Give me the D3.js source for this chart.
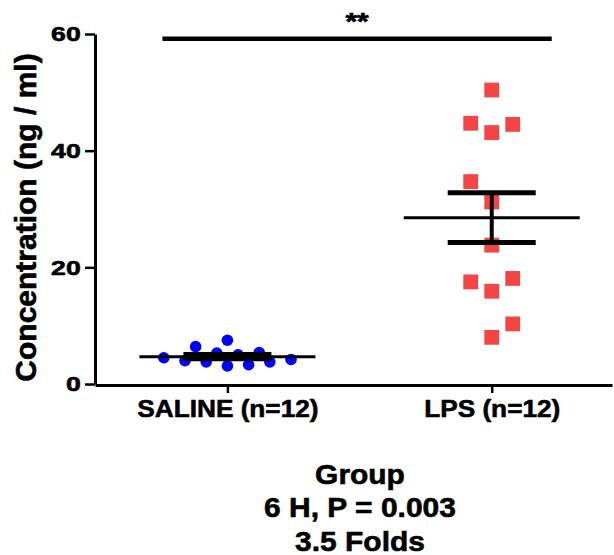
<!DOCTYPE html>
<html>
<head>
<meta charset="utf-8">
<script src="https://cdn.jsdelivr.net/npm/d3@7"></script>
<style>
  body { margin: 0; background: #fff; }
  text { font-family: "Liberation Sans", Arial, sans-serif; font-weight: bold; fill: #000; stroke: #000; stroke-width: 0.6px; }
</style>
</head>
<body>
<script>
// groups on the x axis
const groups = ["SALINE (n=12)", "LPS (n=12)"];
const yTicks = [0, 20, 40, 60];

// concentrations (ng / ml)
const salineValues = [4.5, 4.0, 6.4, 3.8, 5.3, 7.5, 3.1, 5.0, 3.3, 5.4, 3.8, 4.2];
const lpsValues = [50.4, 44.7, 43.1, 44.5, 34.7, 31.2, 23.8, 17.5, 18.1, 15.9, 10.3, 8.0];

// column of each point in the scatter (which slot it sits in, left/right of centre)
const salineCols = [-6, -4, -3, -2, -1, 0, 0, 1, 2, 3, 4, 6];
const lpsCols = [0, -1, 0, 1, -1, 0, 0, -1, 1, 0, 1, 0];

const footer = ["Group", "6 H, P = 0.003", "3.5 Folds"];

const width = 614, height = 555;

const svg = d3.select("body").append("svg")
    .attr("width", width)
    .attr("height", height);

const x = d3.scalePoint()
    .domain(groups)
    .range([95, 612])
    .padding(0.478)
    .align(0.524);

const y = d3.scaleLinear()
    .domain([0, 60])
    .range([384, 34]);

// --- points
const series = [
  { name: groups[0], values: salineValues, cols: salineCols, slot: 10.6, color: "#0000ff", shape: "circle" },
  { name: groups[1], values: lpsValues, cols: lpsCols, slot: 21, color: "#f54444", shape: "square" }
];

series.forEach(s => {
  const pts = s.values.map((v, i) => ({ v: v, c: s.cols[i] }));
  const g = svg.append("g");
  if (s.shape === "circle") {
    g.selectAll("circle")
      .data(pts)
      .enter()
      .append("circle")
      .attr("cx", d => x(s.name) + d.c * s.slot)
      .attr("cy", d => y(d.v))
      .attr("r", 5.8)
      .attr("fill", s.color);
  } else {
    g.selectAll("rect")
      .data(pts)
      .enter()
      .append("rect")
      .attr("x", d => x(s.name) + d.c * s.slot - 7.4)
      .attr("y", d => y(d.v) - 7.4)
      .attr("width", 14.8)
      .attr("height", 14.8)
      .attr("fill", s.color);
  }
});

// --- mean and SEM
series.forEach(s => {
  const m = d3.mean(s.values);
  const sem = d3.deviation(s.values) / Math.sqrt(s.values.length);
  const cx = x(s.name);
  const g = svg.append("g").attr("stroke", "#000");

  g.append("line")
    .attr("x1", cx - 88).attr("x2", cx + 88)
    .attr("y1", y(m)).attr("y2", y(m))
    .attr("stroke-width", 3);

  g.append("line")
    .attr("x1", cx).attr("x2", cx)
    .attr("y1", y(m + sem)).attr("y2", y(m - sem))
    .attr("stroke-width", 4);

  g.selectAll(".cap")
    .data([m + sem, m - sem])
    .enter()
    .append("line")
    .attr("x1", cx - 44).attr("x2", cx + 44)
    .attr("y1", d => y(d)).attr("y2", d => y(d))
    .attr("stroke-width", 5);
});

// --- axes
const tickScale = 1.3;

const yAxis = svg.append("g")
    .attr("transform", "translate(95,0)")
    .call(d3.axisLeft(y).tickValues(yTicks).tickSize(10).tickSizeOuter(0));
yAxis.select(".domain").attr("stroke-width", 3);
yAxis.selectAll(".tick line").attr("stroke-width", 2.5);
yAxis.selectAll(".tick text")
    .attr("font-size", 20.5)
    .attr("x", -14.3 / tickScale)
    .attr("dy", "0.34em")
    .attr("transform", "scale(" + tickScale + ",1)");

const xAxis = svg.append("g")
    .attr("transform", "translate(0," + (y(0) + 1) + ")")
    .call(d3.axisBottom(x).tickSize(8).tickSizeOuter(0));
xAxis.select(".domain").attr("stroke-width", 3);
xAxis.selectAll(".tick line").attr("stroke-width", 2.5);
xAxis.selectAll(".tick text")
    .attr("font-size", 24.5)
    .attr("y", 32.5)
    .attr("dy", 0)
    .attr("transform", "scale(1.07,1)");

// y title
svg.append("text")
    .attr("transform", "translate(36,217.5) rotate(-90)")
    .attr("text-anchor", "middle")
    .attr("font-size", 30)
    .text("Concentration (ng / ml)");

// --- significance bar
const barY = 38.7;
svg.append("line")
    .attr("x1", x(groups[0]) - 65).attr("x2", x(groups[1]) + 60)
    .attr("y1", barY).attr("y2", barY)
    .attr("stroke", "#000")
    .attr("stroke-width", 4.5);

svg.append("text")
    .attr("transform", "translate(" + ((x(groups[0]) - 65 + x(groups[1]) + 60) / 2) + ",29.5) scale(1.3,1)")
    .attr("text-anchor", "middle")
    .attr("font-size", 23)
    .text("**");

// --- footer text under the x axis
svg.append("g")
    .selectAll("text")
    .data(footer)
    .enter()
    .append("text")
    .attr("transform", (d, i) => "translate(360," + (483.5 + i * 33.5) + ") scale(1.07,1)")
    .attr("text-anchor", "middle")
    .attr("font-size", 28)
    .text(d => d);
</script>
</body>
</html>
